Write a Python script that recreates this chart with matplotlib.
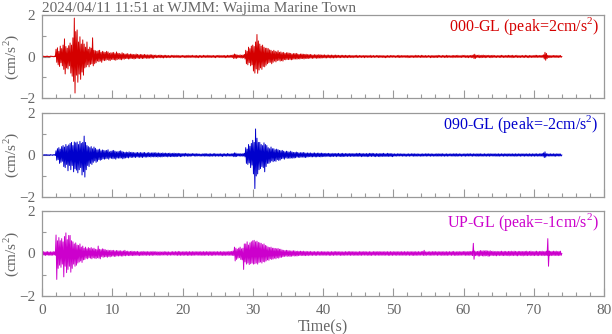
import numpy as np
import matplotlib
matplotlib.use("Agg")
import matplotlib.pyplot as plt
from matplotlib.ticker import MultipleLocator

# ---- data: acceleration in hundredths of cm/s^2, one sample every 0.1 s (one row per second) ----
DT = 0.1
ns_000 = [
    2,-1,2,-2,1,-2,2,-1,2,-2,
    1,-2,2,-1,2,-1,1,-2,2,-1,
    35,-28,42,-40,25,-48,50,-30,38,-45,
    55,-62,85,-84,48,-55,40,-60,52,-45,
    65,-80,55,-95,90,-120,185,-176,120,-90,
    128,-124,70,-85,95,-110,60,-75,80,-90,
    60,-55,45,-50,70,-40,35,-50,45,-38,
    40,-35,90,-45,30,-35,28,-30,25,-22,
    28,-25,30,-22,20,-28,25,-18,22,-20,
    20,-18,25,-15,22,-18,16,-20,18,-14,
    18,-15,20,-16,14,-18,22,-15,16,-12,
    15,-14,12,-16,18,-12,14,-13,12,-10,
    12,-10,14,-12,10,-11,12,-9,11,-10,
    10,-12,9,-10,12,-8,10,-9,8,-10,
    10,-8,9,-10,8,-9,10,-7,8,-9,
    8,-9,7,-8,9,-7,8,-8,7,-9,
    6,-5,7,-6,5,-6,6,-5,7,-6,
    6,-6,5,-7,6,-5,6,-6,5,-5,
    5,-6,4,-5,6,-4,5,-5,6,-5,
    4,-5,6,-4,5,-6,4,-5,5,-4,
    5,-4,5,-5,4,-6,5,-4,6,-5,
    4,-5,5,-4,6,-5,4,-4,5,-6,
    5,-5,4,-6,5,-4,5,-5,4,-5,
    6,-4,5,-5,4,-5,6,-4,5,-5,
    4,-5,5,-4,5,-5,4,-6,5,-4,
    5,-4,6,-5,4,-5,5,-4,5,-5,
    5,-6,4,-5,6,-5,5,-4,6,-5,
    6,-5,8,-10,12,-8,10,-9,7,-6,
    6,-5,8,-7,6,-8,7,-6,10,-12,
    30,-35,25,-40,45,-30,38,-45,50,-40,
    55,-70,48,-80,70,-60,106,-81,75,-65,
    60,-55,50,-62,55,-48,45,-50,40,-42,
    40,-35,38,-30,32,-28,30,-35,25,-28,
    30,-22,25,-26,22,-20,28,-18,20,-22,
    22,-20,18,-22,20,-15,15,-16,18,-14,
    18,-15,16,-14,15,-16,12,-14,14,-12,
    14,-12,15,-13,12,-11,10,-12,12,-10,
    12,-10,11,-12,10,-9,11,-10,9,-10,
    9,-8,10,-8,8,-9,7,-8,9,-7,
    8,-9,7,-8,9,-7,8,-8,7,-7,
    7,-6,8,-7,6,-7,7,-6,7,-6,
    6,-7,7,-6,6,-7,6,-6,7,-6,
    6,-5,6,-6,5,-6,6,-5,6,-5,
    5,-6,6,-5,5,-6,5,-5,6,-5,
    5,-5,4,-6,5,-4,5,-5,6,-5,
    4,-5,5,-4,5,-5,4,-4,5,-6,
    5,-4,4,-5,5,-4,4,-5,6,-5,
    4,-4,5,-5,4,-4,5,-4,5,-5,
    5,-5,4,-4,5,-5,4,-5,4,-6,
    4,-5,5,-4,4,-5,5,-4,5,-4,
    5,-4,4,-5,4,-4,5,-5,6,-5,
    4,-5,5,-4,5,-4,4,-5,5,-4,
    5,-6,4,-5,5,-5,4,-4,5,-5,
    4,-5,6,-4,5,-5,5,-4,4,-5,
    6,-5,5,-4,4,-5,5,-5,4,-4,
    5,-4,4,-6,5,-5,4,-5,5,-5,
    4,-5,5,-5,6,-4,5,-4,4,-5,
    5,-4,5,-5,4,-5,6,-5,5,-4,
    4,-5,4,-4,5,-6,5,-4,5,-5,
    5,-5,6,-4,4,-5,4,-5,6,-4,
    5,-4,6,-5,4,-5,5,-6,5,-4,
    5,-6,6,-5,8,-10,11,-9,6,-5,
    6,-5,7,-6,5,-6,6,-5,7,-5,
    5,-6,6,-5,5,-4,6,-5,5,-6,
    5,-5,6,-4,5,-5,4,-5,5,-4,
    4,-5,5,-5,6,-4,5,-5,4,-5,
    5,-4,5,-5,6,-5,5,-4,5,-6,
    6,-5,4,-5,5,-4,6,-5,4,-5,
    4,-5,5,-4,5,-5,4,-5,6,-4,
    5,-5,4,-6,5,-4,5,-5,4,-5,
    5,-4,6,-5,6,-5,5,-4,5,-5,
    5,-4,6,-5,8,-12,20,-18,15,-10,
    6,-5,5,-6,4,-5,5,-4,5,-5,
    5,-4,5,-5,4,-5,5,-4,5,-4,
    0,
]
ew_090 = [
    2,-1,1,-2,2,-1,2,-2,1,-1,
    1,-2,2,-1,1,-2,2,-1,2,-2,
    20,-25,30,-22,35,-40,28,-35,40,-30,
    45,-55,38,-60,50,-45,42,-75,48,-50,
    55,-70,60,-50,45,-80,62,-65,58,-72,
    62,-85,50,-70,65,-60,55,-95,60,-80,
    90,-105,60,-70,45,-50,40,-55,35,-40,
    40,-45,30,-35,38,-28,32,-35,25,-30,
    25,-22,28,-25,20,-22,24,-18,22,-20,
    20,-18,22,-16,25,-20,15,-14,18,-16,
    20,-18,22,-16,18,-20,15,-14,16,-15,
    18,-15,20,-14,16,-18,14,-15,12,-14,
    14,-12,12,-14,15,-10,12,-12,13,-11,
    12,-10,10,-12,11,-9,12,-10,10,-11,
    12,-10,10,-12,11,-9,12,-10,9,-10,
    10,-9,12,-8,9,-10,10,-8,11,-9,
    10,-9,11,-8,9,-10,10,-8,9,-9,
    8,-9,10,-7,8,-8,9,-7,8,-9,
    8,-7,9,-8,7,-8,8,-7,9,-8,
    7,-8,8,-7,8,-6,7,-8,7,-7,
    6,-5,7,-6,8,-5,6,-6,7,-6,
    5,-6,6,-5,7,-4,6,-5,6,-6,
    6,-5,6,-4,5,-6,4,-5,6,-5,
    5,-6,7,-5,6,-6,5,-5,6,-7,
    6,-5,5,-6,6,-5,7,-6,5,-5,
    5,-6,6,-5,6,-6,5,-7,6,-5,
    6,-5,5,-6,7,-5,6,-5,5,-6,
    6,-5,7,-8,10,-8,9,-7,6,-5,
    6,-5,7,-6,5,-6,7,-5,8,-9,
    35,-40,28,-45,50,-38,42,-60,55,-48,
    70,-90,60,-160,124,-100,80,-90,60,-70,
    60,-65,50,-55,45,-60,58,-80,50,-55,
    45,-40,35,-40,30,-35,38,-28,30,-32,
    30,-28,25,-30,28,-22,25,-26,22,-24,
    20,-18,22,-16,18,-20,15,-14,18,-16,
    16,-15,14,-16,18,-14,14,-15,12,-14,
    12,-13,14,-10,12,-11,10,-12,11,-10,
    11,-10,12,-11,10,-12,9,-10,10,-9,
    9,-8,10,-9,8,-9,9,-8,10,-9,
    8,-9,9,-8,9,-8,8,-9,9,-8,
    8,-7,7,-8,8,-6,7,-7,8,-7,
    7,-8,6,-7,8,-7,7,-6,7,-8,
    7,-6,8,-7,6,-7,7,-8,8,-7,
    6,-7,7,-6,7,-7,6,-6,7,-7,
    7,-6,6,-7,7,-6,6,-7,8,-6,
    7,-7,8,-6,7,-8,6,-7,7,-6,
    6,-7,7,-8,6,-7,8,-6,7,-7,
    8,-6,7,-7,6,-8,7,-6,6,-7,
    7,-8,6,-6,7,-7,8,-7,6,-6,
    6,-7,8,-7,7,-6,6,-7,7,-8,
    5,-6,6,-5,5,-6,6,-5,6,-5,
    6,-5,5,-6,6,-5,5,-6,5,-6,
    5,-5,6,-6,5,-5,6,-5,6,-6,
    6,-6,5,-5,6,-6,5,-5,5,-6,
    5,-6,6,-5,5,-5,6,-6,6,-5,
    6,-5,5,-6,6,-5,5,-6,5,-5,
    5,-6,6,-5,6,-6,5,-5,6,-6,
    6,-5,5,-6,5,-5,6,-6,5,-5,
    5,-5,6,-5,5,-6,6,-5,6,-6,
    6,-6,5,-5,6,-5,5,-6,5,-5,
    5,-5,6,-6,5,-5,6,-5,6,-5,
    6,-5,5,-6,6,-5,5,-5,6,-6,
    5,-6,6,-5,6,-6,5,-5,5,-6,
    6,-5,5,-6,5,-5,6,-6,6,-5,
    5,-5,6,-5,5,-6,6,-5,5,-6,
    6,-6,5,-5,6,-5,5,-6,6,-5,
    5,-5,6,-6,5,-5,6,-5,5,-6,
    6,-5,5,-6,6,-6,5,-5,6,-5,
    5,-6,6,-5,5,-5,6,-6,5,-5,
    6,-5,5,-6,6,-5,5,-6,6,-5,
    5,-6,6,-5,6,-6,5,-5,6,-6,
    6,-5,7,-6,10,-12,15,-10,6,-5,
    6,-5,5,-6,6,-5,5,-5,6,-6,
    5,-6,6,-5,5,-5,6,-5,5,-5,
    0,
]
ud_up = [
    8,-7,9,-8,7,-9,8,-7,9,-8,
    7,-8,8,-9,7,-8,9,-7,8,-8,
    87,-122,60,-70,75,-55,60,-65,70,-50,
    55,-110,80,-60,97,-90,65,-75,85,-60,
    85,-88,60,-70,55,-50,45,-60,50,-55,
    40,-45,38,-40,45,-35,30,-42,35,-30,
    25,-28,30,-22,22,-25,28,-20,24,-22,
    28,-25,22,-20,25,-22,20,-24,18,-20,
    35,-22,20,-25,18,-15,22,-18,20,-16,
    18,-15,15,-18,16,-14,14,-16,15,-13,
    14,-12,15,-14,12,-13,14,-11,13,-12,
    12,-11,13,-12,11,-12,12,-10,15,-11,
    10,-9,11,-10,9,-10,10,-9,11,-10,
    9,-10,10,-8,9,-9,10,-9,8,-10,
    8,-9,9,-8,10,-9,8,-8,9,-9,
    9,-8,8,-9,9,-8,8,-9,10,-8,
    8,-8,9,-7,8,-9,7,-8,9,-8,
    7,-8,8,-7,9,-8,8,-7,8,-9,
    8,-7,7,-8,8,-8,9,-7,8,-8,
    9,-8,8,-9,10,-8,9,-9,8,-8,
    8,-9,9,-8,8,-8,9,-9,8,-9,
    9,-8,8,-9,9,-9,8,-8,9,-8,
    8,-8,9,-8,8,-9,9,-8,8,-9,
    9,-9,8,-8,9,-8,8,-9,9,-8,
    8,-9,9,-9,8,-8,9,-8,8,-8,
    9,-8,8,-8,9,-9,8,-9,9,-9,
    8,-9,9,-8,8,-9,10,-8,9,-9,
    10,-9,12,-10,30,-35,25,-28,20,-22,
    25,-20,30,-28,22,-30,25,-75,45,-40,
    45,-50,55,-45,40,-52,50,-48,55,-45,
    60,-50,62,-48,55,-45,58,-50,52,-42,
    50,-40,48,-45,42,-38,45,-40,38,-35,
    35,-30,30,-32,28,-25,30,-28,25,-26,
    25,-22,24,-25,22,-20,24,-22,20,-18,
    20,-18,16,-15,15,-14,14,-12,15,-14,
    14,-12,13,-14,12,-13,12,-11,13,-12,
    12,-11,10,-12,11,-10,10,-9,11,-10,
    10,-9,11,-10,9,-10,10,-9,9,-10,
    9,-8,10,-9,8,-9,9,-8,9,-9,
    8,-9,9,-8,9,-8,8,-9,9,-8,
    9,-8,8,-9,8,-8,9,-8,8,-9,
    8,-9,9,-8,8,-9,9,-8,9,-8,
    9,-8,8,-8,9,-9,8,-9,8,-8,
    8,-9,9,-8,8,-8,9,-8,9,-9,
    9,-8,8,-9,9,-8,8,-9,8,-8,
    8,-9,9,-8,9,-9,8,-8,9,-8,
    9,-8,8,-9,8,-8,9,-9,8,-9,
    8,-8,9,-8,9,-9,8,-8,9,-8,
    9,-9,8,-8,9,-8,8,-9,9,-8,
    8,-8,9,-9,8,-9,9,-8,8,-9,
    9,-8,8,-8,9,-9,8,-8,9,-8,
    8,-9,9,-8,8,-8,9,-9,8,-8,
    9,-8,8,-9,9,-8,8,-9,9,-9,
    8,-9,9,-8,8,-9,9,-8,8,-8,
    9,-8,10,-9,15,-9,8,-9,8,-7,
    8,-9,9,-8,8,-9,9,-8,9,-8,
    9,-8,8,-9,9,-8,8,-8,9,-9,
    8,-9,9,-8,8,-9,9,-9,8,-8,
    9,-8,8,-9,9,-8,10,-9,8,-9,
    8,-9,9,-8,9,-9,8,-8,9,-8,
    9,-8,10,-9,8,-9,9,-8,10,-9,
    9,-8,10,-9,48,-27,12,-10,9,-9,
    10,-12,11,-12,14,-10,12,-11,13,-12,
    12,-11,14,-10,12,-13,11,-12,13,-10,
    10,-9,11,-10,9,-10,10,-11,10,-9,
    9,-10,10,-9,11,-10,9,-10,10,-10,
    10,-9,9,-10,10,-11,10,-9,11,-10,
    9,-10,11,-9,10,-10,9,-11,10,-9,
    10,-9,10,-10,9,-11,10,-9,10,-10,
    11,-10,9,-9,10,-10,11,-9,9,-10,
    9,-10,10,-9,11,-10,9,-10,10,-9,
    10,-9,11,-10,9,-10,10,-9,11,-9,
    70,-60,12,-10,9,-10,10,-9,11,-10,
    10,-9,11,-10,9,-10,10,-9,11,-9,
    0,
]
components = ["000-GL", "090-GL", "UP-GL"]
peaks = ["2", "-2", "-1"]
series = [ns_000, ew_090, ud_up]
colors = ["#d40000", "#0000cc", "#cc00cc"]
title = "2024/04/11 11:51 at WJMM: Wajima Marine Town"

plt.rcParams['font.family'] = ['Liberation Serif', 'DejaVu Serif']
plt.rcParams['mathtext.fontset'] = 'custom'
plt.rcParams['mathtext.rm'] = 'Liberation Serif'
gray = "#666666"
spine_c = "#999999"
FS = 11.5

W, H = 612, 334
fig = plt.figure(figsize=(W/100, H/100), dpi=100)
panels = [(15, 98), (113, 197), (211, 296)]
left, right = 42, 604
axes = []
for i, (top, bot) in enumerate(panels):
    ax = fig.add_axes([left/W, 1-bot/H, (right-left)/W, (bot-top)/H])
    vals = np.array(series[i], dtype=float) / 100.0
    t = np.arange(len(vals)) * DT
    ax.plot(t, vals, color=colors[i], lw=0.7)
    ax.set_xlim(0, 80)
    ax.set_ylim(-2, 2)
    ax.set_yticks([-2, 0, 2])
    ax.yaxis.set_minor_locator(MultipleLocator(1))
    ax.xaxis.set_major_locator(MultipleLocator(10))
    ax.xaxis.set_minor_locator(MultipleLocator(2))
    ax.tick_params(which='both', direction='in', top=False, right=False,
                   colors=spine_c, labelcolor=gray, labelsize=11)
    ax.tick_params(which='major', length=6, width=0.8)
    ax.tick_params(which='minor', length=3, width=0.8)
    ax.tick_params(axis='y', pad=5)
    ax.tick_params(axis='x', pad=6)
    for s in ax.spines.values():
        s.set_color(spine_c)
        s.set_linewidth(0.9)
    if i < 2:
        ax.set_xticklabels([])
    ax.set_ylabel("(cm/s$^2$)", color=gray, fontsize=11)
    ax.yaxis.set_label_coords(-0.038, 0.5)
    ax.text(0.991, 0.81, f"{components[i]} (peak={peaks[i]}cm/s$^2$)",
            transform=ax.transAxes, ha='right', va='baseline',
            color=colors[i], fontsize=FS)
    axes.append(ax)

axes[-1].set_xlabel("Time(s)", color=gray, fontsize=FS)
axes[-1].xaxis.set_label_coords(0.5, -0.27)
fig.text(left/W, 1-12/H, title, color=gray, fontsize=11, ha='left', va='baseline')

fig.savefig("out.png", dpi=100)
